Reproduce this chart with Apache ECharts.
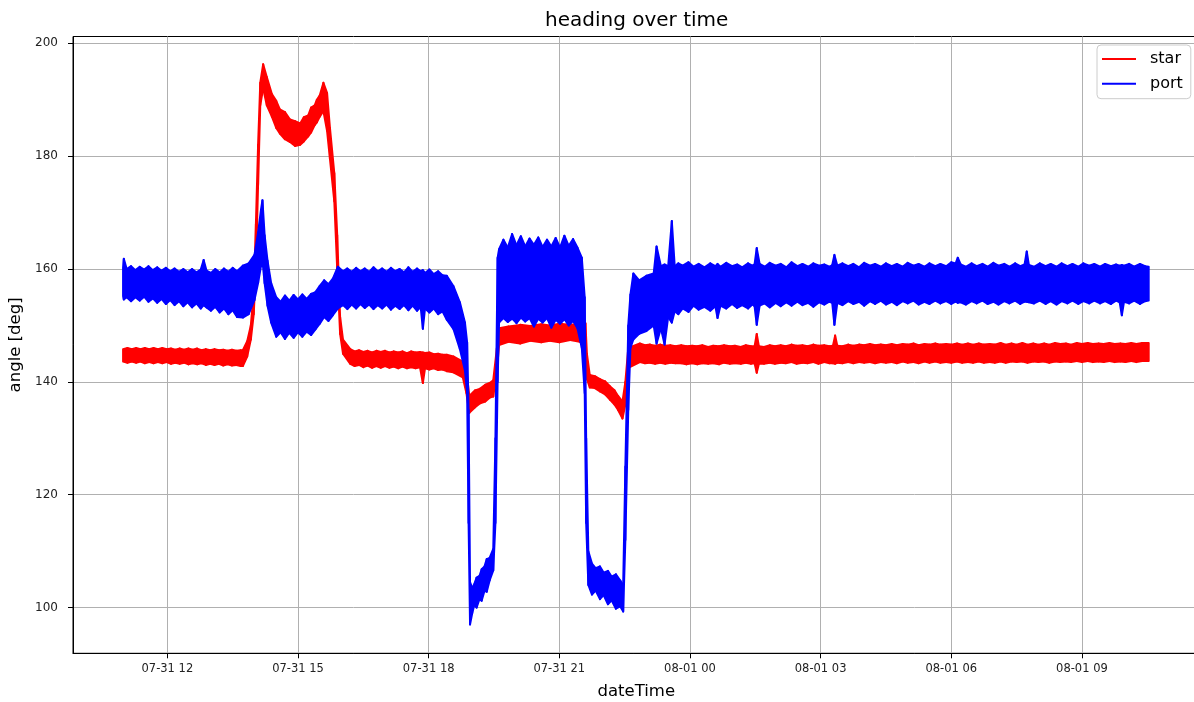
<!DOCTYPE html>
<html>
<head>
<meta charset="utf-8">
<script src="https://cdn.jsdelivr.net/npm/echarts@6/dist/echarts.min.js"></script>
<style>
html,body{margin:0;padding:0;background:#fff;}
#chart{width:1194px;height:702px;}
</style>
</head>
<body>
<div id="chart"></div>
<script>
const YEAR = '2017-';

// x tick positions and labels
const xTicks = ['07-31 12:00','07-31 15:00','07-31 18:00','07-31 21:00','08-01 00:00','08-01 03:00','08-01 06:00','08-01 09:00'];
const yTicks = [100, 120, 140, 160, 180, 200];
const xRange = ['07-31 09:50', '08-01 11:42'];
const yRange = [91.9, 201.2];

// "star" series: sample times, lower and upper edge of the noisy trace
const starTime = [
  '07-31 10:59','07-31 11:05','07-31 11:11','07-31 11:17','07-31 11:23','07-31 11:29','07-31 11:35','07-31 11:41','07-31 11:47','07-31 11:53','07-31 11:59','07-31 12:05','07-31 12:11','07-31 12:17','07-31 12:23','07-31 12:29','07-31 12:35','07-31 12:41','07-31 12:47','07-31 12:53','07-31 12:59','07-31 13:05','07-31 13:11','07-31 13:17','07-31 13:23','07-31 13:29','07-31 13:35','07-31 13:41','07-31 13:44',
  '07-31 13:50','07-31 13:55','07-31 13:59','07-31 14:02','07-31 14:05','07-31 14:08','07-31 14:12','07-31 14:17','07-31 14:24','07-31 14:30','07-31 14:35','07-31 14:42','07-31 14:49','07-31 14:56','07-31 15:03','07-31 15:08','07-31 15:14','07-31 15:18','07-31 15:23','07-31 15:26','07-31 15:30','07-31 15:35','07-31 15:40','07-31 15:44','07-31 15:50','07-31 15:54','07-31 15:58','07-31 16:02',
  '07-31 16:12','07-31 16:18','07-31 16:24','07-31 16:30','07-31 16:36','07-31 16:42','07-31 16:48','07-31 16:54','07-31 17:00','07-31 17:06','07-31 17:12','07-31 17:18','07-31 17:24','07-31 17:30','07-31 17:36','07-31 17:42','07-31 17:48','07-31 17:52','07-31 17:55','07-31 18:01','07-31 18:07','07-31 18:13','07-31 18:19','07-31 18:25','07-31 18:34',
  '07-31 18:47','07-31 18:52','07-31 18:56','07-31 19:04','07-31 19:11','07-31 19:18','07-31 19:24','07-31 19:29','07-31 19:34','07-31 19:37','07-31 19:50','07-31 20:06','07-31 20:20','07-31 20:35','07-31 20:47','07-31 21:00','07-31 21:15','07-31 21:28','07-31 21:36',
  '07-31 21:38','07-31 21:42','07-31 21:49','07-31 21:56','07-31 22:03','07-31 22:10','07-31 22:16','07-31 22:21','07-31 22:27','07-31 22:31','07-31 22:35',
  '07-31 22:51','07-31 22:58','07-31 23:05','07-31 23:12','07-31 23:19','07-31 23:26','07-31 23:33','07-31 23:40','07-31 23:48','07-31 23:55',
  '08-01 00:03','08-01 00:10','08-01 00:17','08-01 00:25','08-01 00:32','08-01 00:40','08-01 00:47','08-01 00:55','08-01 01:02','08-01 01:10','08-01 01:17','08-01 01:24','08-01 01:29','08-01 01:32','08-01 01:35','08-01 01:42','08-01 01:50','08-01 01:57',
  '08-01 02:05','08-01 02:12','08-01 02:20','08-01 02:27','08-01 02:35','08-01 02:42','08-01 02:50','08-01 02:57','08-01 03:05','08-01 03:12','08-01 03:17','08-01 03:20','08-01 03:23','08-01 03:30','08-01 03:38','08-01 03:45','08-01 03:53',
  '08-01 04:00','08-01 04:08','08-01 04:15','08-01 04:23','08-01 04:30','08-01 04:38','08-01 04:45','08-01 04:53','08-01 05:00','08-01 05:08','08-01 05:15','08-01 05:23','08-01 05:30','08-01 05:38','08-01 05:45','08-01 05:53',
  '08-01 06:00','08-01 06:08','08-01 06:15','08-01 06:23','08-01 06:30','08-01 06:38','08-01 06:45','08-01 06:53','08-01 07:00','08-01 07:08','08-01 07:15','08-01 07:23','08-01 07:30','08-01 07:38','08-01 07:45','08-01 07:53',
  '08-01 08:00','08-01 08:08','08-01 08:15','08-01 08:23','08-01 08:30','08-01 08:38','08-01 08:45','08-01 08:53','08-01 09:00','08-01 09:08','08-01 09:15','08-01 09:23','08-01 09:30','08-01 09:38','08-01 09:45','08-01 09:53',
  '08-01 10:00','08-01 10:08','08-01 10:15','08-01 10:23','08-01 10:32'
];
const starLow = [
  143.6,143.4,143.6,143.4,143.6,143.3,143.5,143.3,143.5,143.3,143.5,143.2,143.4,143.2,143.4,143.1,143.3,143.1,143.3,143.0,143.2,143.0,143.2,142.9,143.1,142.9,143.0,142.8,142.8,
  144.5,147.5,152.0,160.0,175.0,189.0,192.0,189.0,187.0,185.0,184.0,183.0,182.5,181.8,182.0,182.6,183.5,184.2,185.5,186.0,187.0,188.0,184.5,179.5,172.0,160.0,148.5,145.0,
  143.2,142.8,143.0,142.6,142.9,142.5,142.8,142.5,142.8,142.5,142.7,142.4,142.7,142.4,142.6,142.4,142.6,139.8,142.4,142.2,142.4,142.1,142.2,141.9,141.7,
  140.8,138.0,134.5,135.5,136.2,136.5,137.2,137.4,142.0,146.5,147.1,146.8,147.3,147.0,147.3,147.0,147.4,147.1,147.3,
  140.5,139.0,138.9,138.3,137.8,136.8,136.0,135.0,133.5,136.0,142.5,
  143.5,143.3,143.4,143.2,143.4,143.2,143.4,143.3,143.3,143.1,
  143.3,143.1,143.3,143.2,143.3,143.1,143.4,143.2,143.3,143.2,143.4,143.2,143.3,141.6,143.2,143.2,143.4,143.2,
  143.4,143.3,143.5,143.2,143.4,143.3,143.5,143.2,143.5,143.3,143.3,143.2,143.4,143.3,143.5,143.3,143.5,
  143.4,143.5,143.3,143.5,143.4,143.5,143.3,143.6,143.4,143.5,143.3,143.6,143.4,143.6,143.4,143.5,
  143.4,143.6,143.4,143.5,143.4,143.6,143.4,143.5,143.4,143.6,143.4,143.6,143.5,143.6,143.4,143.6,
  143.5,143.6,143.4,143.6,143.5,143.6,143.5,143.7,143.5,143.7,143.5,143.6,143.5,143.7,143.5,143.6,
  143.5,143.7,143.5,143.7,143.7
];
const starHigh = [
  145.8,146.0,145.8,146.0,145.8,146.0,145.8,146.0,145.8,146.0,145.8,145.9,145.7,145.9,145.7,145.9,145.7,145.9,145.6,145.8,145.6,145.8,145.6,145.7,145.5,145.7,145.5,145.6,145.6,
  147.2,150.0,156.0,168.0,182.0,193.0,196.3,194.0,191.0,189.8,188.3,187.8,186.5,186.2,185.8,186.9,187.2,188.6,189.0,190.0,190.8,193.0,191.2,185.0,177.0,166.0,151.5,147.5,
  145.8,145.4,145.6,145.3,145.5,145.2,145.5,145.3,145.5,145.2,145.4,145.2,145.4,145.1,145.4,145.2,145.3,145.2,145.1,145.2,144.9,145.0,144.8,144.8,144.5,
  143.6,142.0,137.5,138.5,138.8,139.5,139.8,140.3,146.0,149.5,149.8,150.1,149.9,150.2,150.0,150.3,150.1,150.4,150.4,
  145.0,141.2,141.0,140.5,140.1,139.2,138.5,137.5,136.5,140.0,146.0,
  146.8,146.5,146.6,146.4,146.6,146.4,146.5,146.3,146.5,146.3,
  146.4,146.3,146.5,146.2,146.4,146.3,146.5,146.3,146.4,146.2,146.5,146.3,146.3,148.5,146.3,146.2,146.5,146.3,
  146.5,146.3,146.6,146.4,146.5,146.3,146.6,146.4,146.5,146.3,146.4,148.2,146.4,146.3,146.6,146.4,146.6,
  146.5,146.7,146.5,146.6,146.5,146.7,146.5,146.7,146.6,146.8,146.5,146.7,146.6,146.8,146.6,146.7,
  146.6,146.8,146.6,146.8,146.6,146.8,146.6,146.7,146.6,146.9,146.6,146.8,146.6,146.9,146.6,146.8,
  146.6,146.8,146.6,146.9,146.7,146.8,146.6,146.9,146.7,146.9,146.7,146.8,146.7,146.9,146.7,146.8,
  146.7,146.9,146.7,146.9,146.9
];

// "port" series: sample times, lower and upper edge of the noisy trace
const portTime = [
  '07-31 10:59','07-31 11:00','07-31 11:04','07-31 11:10','07-31 11:16','07-31 11:22','07-31 11:28','07-31 11:34','07-31 11:40','07-31 11:46','07-31 11:52','07-31 11:58',
  '07-31 12:04','07-31 12:10','07-31 12:16','07-31 12:22','07-31 12:28','07-31 12:34','07-31 12:40','07-31 12:46','07-31 12:50','07-31 12:54',
  '07-31 13:00','07-31 13:06','07-31 13:12','07-31 13:18','07-31 13:24','07-31 13:30','07-31 13:36','07-31 13:44','07-31 13:52',
  '07-31 14:00','07-31 14:05','07-31 14:09','07-31 14:11','07-31 14:14','07-31 14:18','07-31 14:23',
  '07-31 14:30','07-31 14:36','07-31 14:42','07-31 14:48','07-31 14:54','07-31 15:00','07-31 15:06','07-31 15:12','07-31 15:18','07-31 15:24','07-31 15:30','07-31 15:36','07-31 15:42','07-31 15:48','07-31 15:55',
  '07-31 16:02','07-31 16:08','07-31 16:14','07-31 16:20','07-31 16:26','07-31 16:32','07-31 16:38','07-31 16:44','07-31 16:50','07-31 16:56',
  '07-31 17:02','07-31 17:08','07-31 17:14','07-31 17:20','07-31 17:26','07-31 17:32','07-31 17:38','07-31 17:44','07-31 17:49','07-31 17:52','07-31 17:55',
  '07-31 18:01','07-31 18:07','07-31 18:13','07-31 18:19','07-31 18:25','07-31 18:34',
  '07-31 18:43','07-31 18:50','07-31 18:53','07-31 18:55','07-31 18:57','07-31 19:00','07-31 19:03','07-31 19:06','07-31 19:10','07-31 19:13','07-31 19:17','07-31 19:20','07-31 19:24','07-31 19:29','07-31 19:32','07-31 19:35',
  '07-31 19:37','07-31 19:43','07-31 19:49','07-31 19:55','07-31 20:01','07-31 20:07','07-31 20:13','07-31 20:19','07-31 20:25','07-31 20:31',
  '07-31 20:37','07-31 20:43','07-31 20:49','07-31 20:55','07-31 21:01','07-31 21:07','07-31 21:13','07-31 21:19','07-31 21:25','07-31 21:31',
  '07-31 21:35','07-31 21:37','07-31 21:40','07-31 21:45','07-31 21:50','07-31 21:56','07-31 22:01','07-31 22:07','07-31 22:12','07-31 22:18','07-31 22:24','07-31 22:28','07-31 22:31','07-31 22:35','07-31 22:38',
  '07-31 22:42','07-31 22:50','07-31 23:00','07-31 23:10','07-31 23:14','07-31 23:20','07-31 23:25','07-31 23:30','07-31 23:35','07-31 23:39','07-31 23:44',
  '07-31 23:50','07-31 23:58',
  '08-01 00:05','08-01 00:12','08-01 00:20','08-01 00:28','08-01 00:35','08-01 00:38','08-01 00:42','08-01 00:50','08-01 00:58',
  '08-01 01:05','08-01 01:12','08-01 01:20','08-01 01:26','08-01 01:29','08-01 01:32','08-01 01:36','08-01 01:43','08-01 01:50','08-01 01:58',
  '08-01 02:05','08-01 02:13','08-01 02:20','08-01 02:28','08-01 02:35','08-01 02:43','08-01 02:50','08-01 02:58',
  '08-01 03:05','08-01 03:12','08-01 03:16','08-01 03:19','08-01 03:23','08-01 03:30','08-01 03:38','08-01 03:45','08-01 03:53',
  '08-01 04:00','08-01 04:08','08-01 04:15','08-01 04:23','08-01 04:30','08-01 04:38','08-01 04:45','08-01 04:53',
  '08-01 05:00','08-01 05:08','08-01 05:15','08-01 05:23','08-01 05:30','08-01 05:38','08-01 05:45','08-01 05:53',
  '08-01 06:00','08-01 06:06','08-01 06:09','08-01 06:13','08-01 06:20','08-01 06:28','08-01 06:35','08-01 06:43','08-01 06:50','08-01 06:58',
  '08-01 07:05','08-01 07:13','08-01 07:20','08-01 07:28','08-01 07:35','08-01 07:41','08-01 07:44','08-01 07:47','08-01 07:54',
  '08-01 08:02','08-01 08:10','08-01 08:17','08-01 08:25','08-01 08:32','08-01 08:40','08-01 08:47','08-01 08:55',
  '08-01 09:02','08-01 09:10','08-01 09:17','08-01 09:25','08-01 09:32','08-01 09:40','08-01 09:47','08-01 09:52','08-01 09:55','08-01 09:58',
  '08-01 10:05','08-01 10:12','08-01 10:20','08-01 10:27','08-01 10:32'
];
const portLow = [
  155.2,154.6,155.0,154.3,155.0,154.4,155.1,154.2,154.8,154.0,154.7,153.8,
  154.5,153.6,154.3,153.4,154.1,153.2,153.9,153.0,153.6,153.2,
  152.6,153.3,152.3,153.0,152.0,152.7,151.5,151.4,152.0,
  154.5,157.5,160.5,161.5,157.5,153.5,150.5,
  148.0,148.8,147.6,148.7,147.8,148.8,148.0,148.9,148.3,149.3,150.3,151.5,150.8,151.8,153.0,
  153.6,152.9,153.7,153.0,153.8,153.1,153.7,152.9,153.6,153.0,
  153.7,152.8,153.5,152.9,153.6,152.7,153.5,152.6,153.3,149.4,153.0,
  152.3,153.0,152.0,152.5,151.0,149.4,
  145.8,142.0,138.0,115.0,97.0,99.0,100.5,100.0,101.5,101.2,103.0,102.8,104.8,106.6,115.0,140.0,
  150.5,151.3,150.6,151.2,150.4,151.4,150.7,151.3,149.8,151.2,
  150.5,151.3,149.6,151.0,150.3,151.1,150.0,150.8,149.5,146.0,
  138.0,115.0,104.0,102.3,103.0,101.5,102.2,100.6,101.3,99.8,100.2,99.3,112.0,135.0,146.0,
  147.5,148.5,149.0,150.0,146.8,149.5,146.6,151.5,150.5,152.5,152.0,
  153.0,152.4,
  153.5,152.8,153.3,152.6,153.4,151.3,153.5,153.0,153.8,
  153.1,153.6,153.0,153.7,153.4,150.1,153.5,153.9,153.2,154.0,
  153.4,154.1,153.5,154.2,153.6,154.0,153.3,154.1,
  153.7,154.2,154.0,150.1,154.0,153.6,154.3,153.8,154.2,
  153.5,154.3,153.8,154.4,153.7,154.2,153.6,154.3,
  153.9,154.4,153.7,154.2,153.8,154.4,153.9,154.3,
  153.8,154.2,154.0,154.1,153.7,154.3,153.9,154.4,153.8,154.2,
  153.7,154.3,153.9,154.4,153.8,154.2,154.2,154.1,153.9,
  154.4,153.8,154.3,153.7,154.3,153.9,154.4,153.8,
  154.3,153.9,154.4,153.9,154.3,153.8,154.4,154.1,151.8,154.2,
  153.9,154.4,153.8,154.3,154.4
];
const portHigh = [
  160.2,161.8,160.0,160.5,159.8,160.4,159.9,160.5,159.8,160.3,159.7,160.2,
  159.6,160.1,159.5,160.0,159.4,160.0,159.4,159.9,161.6,159.7,
  159.3,160.0,159.4,160.1,159.5,160.2,159.6,160.6,161.0,
  162.5,166.5,170.5,172.2,166.0,161.5,157.5,
  155.0,154.2,155.3,154.4,155.4,154.6,155.5,154.7,155.6,155.9,157.0,158.0,157.3,158.3,160.4,
  159.6,160.1,159.5,160.2,159.6,160.1,159.5,160.3,159.6,160.1,
  159.5,160.2,159.6,160.0,159.4,160.3,159.5,160.1,159.6,159.8,159.3,
  159.9,159.1,159.6,158.9,158.8,157.0,
  154.1,150.5,147.0,135.0,104.5,103.5,104.2,105.3,105.6,106.8,107.3,108.6,108.8,110.4,130.0,162.0,
  163.5,165.2,163.8,166.2,164.2,165.8,164.0,165.4,164.3,165.6,
  163.9,165.2,164.0,165.5,163.8,165.9,164.1,165.3,163.8,162.0,
  155.0,130.0,110.0,107.8,107.0,107.3,106.2,106.5,105.5,105.9,104.8,104.0,125.0,150.0,155.5,
  159.2,158.0,158.8,159.2,164.0,160.5,160.8,160.5,168.5,160.5,161.0,
  160.6,161.2,
  160.4,160.9,160.3,161.0,160.5,160.9,160.4,161.1,160.5,
  160.8,160.3,161.0,160.6,160.8,163.7,160.9,160.4,161.1,160.6,
  160.9,160.3,161.2,160.5,160.9,160.4,161.0,160.6,
  160.8,160.4,160.7,162.5,160.6,161.0,160.5,160.9,160.3,
  161.1,160.6,160.9,160.4,161.0,160.5,160.9,160.4,
  161.1,160.6,160.9,160.4,161.0,160.5,160.9,160.5,
  161.2,161.0,162.0,160.8,160.4,161.0,160.5,160.9,160.4,161.1,
  160.6,160.9,160.4,161.0,160.5,160.8,163.1,160.7,160.4,
  161.0,160.5,160.9,160.4,161.0,160.5,160.9,160.4,
  161.0,160.6,160.9,160.4,160.9,160.5,160.8,160.6,160.7,160.6,
  160.9,160.4,160.9,160.5,160.4
];

const FONT = 'DejaVu Sans';
const toMs = s => new Date((YEAR + s).replace(' ', 'T')).getTime();
const pad = n => (n < 10 ? '0' : '') + n;

// Each trace is drawn as a filled band between its lower and upper edge,
// one quad per pair of neighbouring samples, positioned through the axes.
function bandSeries(name, color, times, low, high) {
  const n = Math.min(times.length, low.length, high.length);
  const rows = [];
  for (let i = 0; i < n; i++) rows.push([toMs(times[i]), low[i], high[i]]);
  return {
    type: 'custom', name: name, silent: true, clip: true,
    itemStyle: { color: color },
    data: rows,
    encode: { x: 0, y: [1, 2] },
    renderItem: function (params, api) {
      const i = params.dataIndexInside;
      if (i >= params.dataInsideLength - 1) return null;
      const a = api.coord([api.value(0, i), api.value(1, i)]);
      const b = api.coord([api.value(0, i + 1), api.value(1, i + 1)]);
      const c = api.coord([api.value(0, i + 1), api.value(2, i + 1)]);
      const d = api.coord([api.value(0, i), api.value(2, i)]);
      return {
        type: 'polygon', silent: true,
        shape: { points: [a, b, c, d] },
        style: { fill: color, stroke: color, lineWidth: 2, lineJoin: 'round' }
      };
    }
  };
}

const chart = echarts.init(document.getElementById('chart'), null, { renderer: 'canvas' });
chart.setOption({
  animation: false,
  backgroundColor: '#fff',
  textStyle: { fontFamily: FONT },
  title: {
    text: 'heading over time', left: 540, top: 6,
    textStyle: { fontFamily: FONT, fontSize: 20, fontWeight: 'normal', color: '#000' }
  },
  legend: {
    data: ['star', 'port'], orient: 'vertical', left: 1097, top: 45,
    icon: 'rect', itemWidth: 34, itemHeight: 2, itemGap: 8.7,
    padding: [6, 8, 7, 5],
    backgroundColor: 'rgba(255,255,255,0.8)', borderColor: '#cccccc', borderWidth: 1, borderRadius: 4,
    textStyle: { fontFamily: FONT, fontSize: 16, color: '#000', lineHeight: 16, padding: [0, 0, 0, 9] }
  },
  grid: {
    left: 73, top: 36.5, right: -5.5, bottom: 48.7,
    containLabel: false, outerBoundsMode: 'none',
    show: true, borderColor: '#000', borderWidth: 1, backgroundColor: '#fff'
  },
  xAxis: {
    type: 'value', min: toMs(xRange[0]), max: toMs(xRange[1]), scale: true,
    name: 'dateTime', nameLocation: 'middle', nameGap: 30,
    nameTextStyle: { fontFamily: FONT, fontSize: 16.5, color: '#000' },
    axisLine: { show: true, lineStyle: { color: '#000', width: 1 } },
    axisTick: { show: true, length: 5, lineStyle: { color: '#000' }, customValues: xTicks.map(toMs) },
    axisLabel: {
      customValues: xTicks.map(toMs), margin: 10, fontFamily: FONT, fontSize: 11.5, color: '#222',
      hideOverlap: false,
      formatter: v => { const d = new Date(v); return pad(d.getMonth() + 1) + '-' + pad(d.getDate()) + ' ' + pad(d.getHours()); }
    },
    splitLine: { show: true, lineStyle: { color: '#b0b0b0', width: 1 } }
  },
  yAxis: {
    type: 'value', min: yRange[0], max: yRange[1],
    name: 'angle [deg]', nameLocation: 'middle', nameGap: 45, nameRotate: 90,
    nameTextStyle: { fontFamily: FONT, fontSize: 16.5, color: '#000' },
    axisLine: { show: true, lineStyle: { color: '#000', width: 1 } },
    axisTick: { show: true, length: 5, lineStyle: { color: '#000' }, customValues: yTicks },
    axisLabel: { customValues: yTicks, margin: 15, fontFamily: FONT, fontSize: 12, color: '#222' },
    splitLine: { show: true, lineStyle: { color: '#b0b0b0', width: 1 } }
  },
  series: [
    bandSeries('star', '#ff0000', starTime, starLow, starHigh),
    bandSeries('port', '#0000ff', portTime, portLow, portHigh)
  ]
});
if (starTime.length !== starLow.length || starTime.length !== starHigh.length ||
    portTime.length !== portLow.length || portTime.length !== portHigh.length) {
  console.error('length mismatch', starTime.length, starLow.length, starHigh.length, portTime.length, portLow.length, portHigh.length);
}
</script>
</body>
</html>
